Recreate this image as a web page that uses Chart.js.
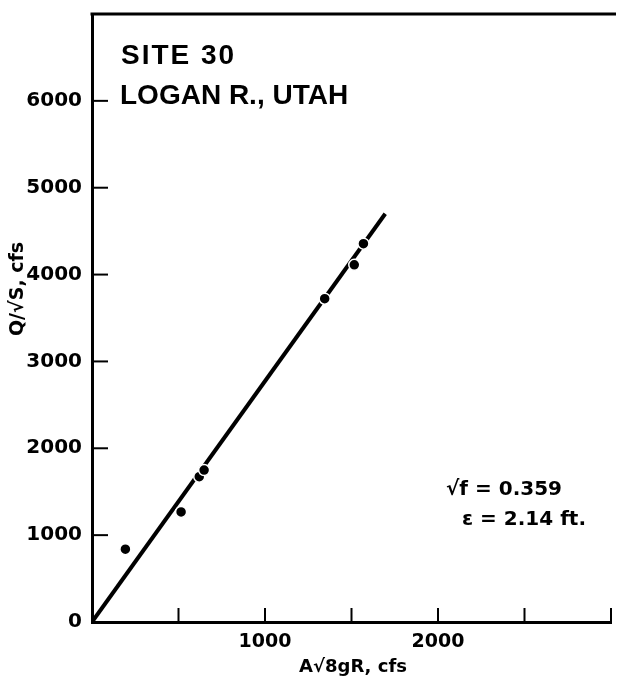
<!DOCTYPE html>
<html>
<head>
<meta charset="utf-8">
<script src="https://cdn.jsdelivr.net/npm/chart.js@4.4.1/dist/chart.umd.min.js"></script>
<style>
    html, body { margin: 0; padding: 0; background: #fff; }
    #wrap { width: 618px; height: 685px; position: relative; }
</style>
</head>
<body>
<div id="wrap"><canvas id="siteChart"></canvas></div>
<script>
// measured points, A*sqrt(8gR) vs Q/sqrt(S)
const xValues = [193, 515, 620, 648, 1345, 1516, 1569];
const yValues = [839, 1267, 1673, 1749, 3722, 4112, 4356];
// fitted line, sqrt(f) = 0.359
const lineX = [0, 1695];
const lineY = [0, 4700];
const xLabeled = [1000, 2000];
const yTickMax = 6000;

const FONT = '"DejaVu Sans", Verdana, sans-serif';
const FONT2 = '"Liberation Sans", Arial, sans-serif';

const pointData = xValues.map((x, i) => ({ x: x, y: yValues[i] }));
const lineData = lineX.map((x, i) => ({ x: x, y: lineY[i] }));

// inward ticks, top frame line and the lettering
const decorPlugin = {
    id: 'decor',
    afterDraw(chart) {
        const ctx = chart.ctx;
        const area = chart.chartArea;
        const xs = chart.scales.x;
        const ys = chart.scales.y;
        ctx.save();
        ctx.strokeStyle = '#000';
        ctx.lineWidth = 3;
        ctx.beginPath();
        ctx.moveTo(area.left - 1.5, area.top);
        ctx.lineTo(area.right + 5, area.top);
        ctx.stroke();

        ctx.lineWidth = 2;
        xs.ticks.forEach(t => {
            if (t.value === 0) return;
            const px = xs.getPixelForValue(t.value);
            ctx.beginPath();
            ctx.moveTo(px, area.bottom);
            ctx.lineTo(px, area.bottom - 14);
            ctx.stroke();
        });
        ys.ticks.forEach(t => {
            if (t.value === 0 || t.value > yTickMax) return;
            const py = ys.getPixelForValue(t.value);
            ctx.beginPath();
            ctx.moveTo(area.left, py);
            ctx.lineTo(area.left + 16, py);
            ctx.stroke();
        });

        ctx.fillStyle = '#000';
        ctx.textBaseline = 'middle';
        ctx.textAlign = 'left';
        ctx.font = 'bold 28px ' + FONT2;
        ctx.letterSpacing = '2px';
        ctx.fillText('SITE 30', 121, 56);
        ctx.letterSpacing = '0px';
        ctx.fillText('LOGAN R., UTAH', 120, 96);

        ctx.font = 'bold 20px ' + FONT;
        ctx.fillText('\u221Af = 0.359', 446, 490);
        ctx.fillText('\u03B5 = 2.14 ft.', 462, 520);

        ctx.font = 'bold 18px ' + FONT;
        ctx.textAlign = 'center';
        ctx.fillText('A\u221A8gR, cfs', 353, 667);

        ctx.font = 'bold 19px ' + FONT;
        ctx.translate(18, 289);
        ctx.rotate(-Math.PI / 2);
        ctx.fillText('Q/\u221AS, cfs', 0, 0);
        ctx.restore();
    }
};

new Chart(document.getElementById('siteChart'), {
    type: 'scatter',
    data: {
        datasets: [
            {
                label: 'fit',
                data: lineData,
                showLine: true,
                borderColor: '#000',
                borderWidth: 4,
                pointRadius: 0,
                order: 2
            },
            {
                label: 'points',
                data: pointData,
                backgroundColor: '#000',
                borderColor: '#fff',
                borderWidth: 1.5,
                pointRadius: 5.5,
                order: 1
            }
        ]
    },
    options: {
        responsive: true,
        maintainAspectRatio: false,
        animation: false,
        layout: { padding: { top: 7, right: 3, left: 0, bottom: 0 } },
        plugins: {
            legend: { display: false },
            tooltip: { enabled: false }
        },
        scales: {
            x: {
                min: 0,
                max: 3000,
                grid: { display: false },
                border: { display: true, color: '#000', width: 3 },
                afterFit: s => { s.height = 63; },
                ticks: {
                    stepSize: 500,
                    padding: 1,
                    color: '#000',
                    font: { family: FONT, size: 19, weight: 'bold' },
                    callback: v => xLabeled.includes(v) ? String(v) : ''
                }
            },
            y: {
                min: 0,
                max: 7000,
                grid: { display: false },
                border: { display: true, color: '#000', width: 3 },
                afterFit: s => { s.width = 92; },
                ticks: {
                    stepSize: 1000,
                    padding: 2,
                    color: '#000',
                    font: { family: FONT, size: 20, weight: 'bold' },
                    callback: v => v <= yTickMax ? String(v) : ''
                }
            }
        }
    },
    plugins: [decorPlugin]
});
</script>
</body>
</html>
